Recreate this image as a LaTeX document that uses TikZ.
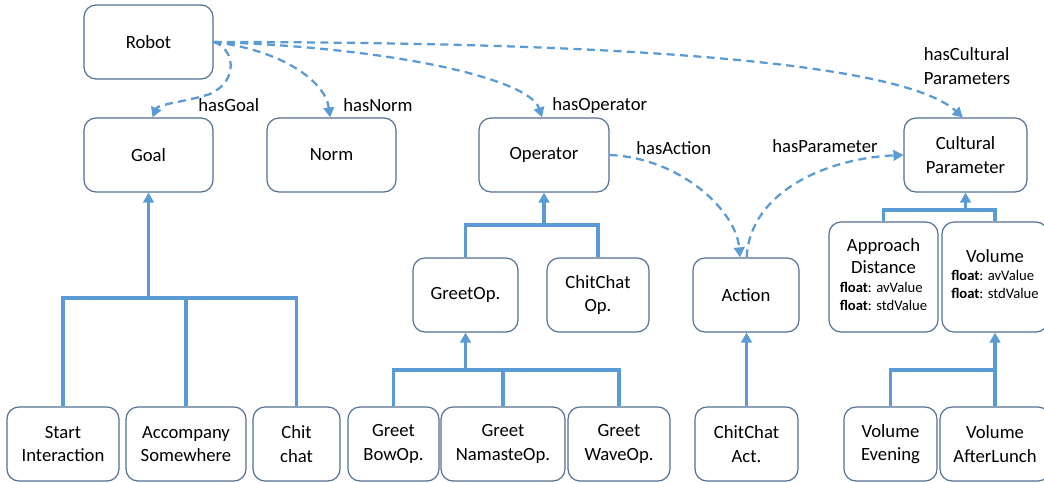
\documentclass[tikz,border=0pt]{standalone}
\usepackage{fontspec}
\setmainfont{Carlito}
\usetikzlibrary{arrows.meta}
\definecolor{edge}{RGB}{91,155,213}
\definecolor{frame}{RGB}{84,112,146}
\newcommand\mainsize{\fontsize{14}{17.5}\selectfont}
\newcommand\smallsize{\fontsize{11}{13.5}\selectfont}
% two attribute lines, left aligned with each other
\newcommand\attrs{{\smallsize\begin{tabular}[t]{@{}l@{}}\textbf{float}: avValue\\\textbf{float}: stdValue\end{tabular}}}
\tikzset{
  box/.style={draw=frame, line width=0.9pt, rounded corners=9pt, fill=white,
    align=center, inner sep=0pt, font=\mainsize},
  isa/.style={draw=edge, line width=2.4pt, -{Triangle[length=7.5pt,width=8pt]}},
  branch/.style={draw=edge, line width=2.4pt},
  rel/.style={draw=edge, line width=1.7pt, dash pattern=on 6pt off 4pt,
    -{Triangle[length=7.5pt,width=8pt]}},
  lbl/.style={font=\mainsize, inner sep=0pt},
}
% box by its corners: name, x1, y1, x2, y2, text
\newcommand\bx[6]{%
  \node[box, minimum width={(#4-#2)*0.75pt}, minimum height={(#5-#3)*0.75pt}]
    (#1) at ({(#2+#4)/2},{(#3+#5)/2}) {#6};}
\begin{document}
\begin{tikzpicture}[x=0.75pt, y=-0.75pt]
\useasboundingbox (0,0) rectangle (1044,482);
\clip (0,0) rectangle (1044,482);

% upper level
\bx{robot}{84}{5}{213}{79}{Robot}
\bx{goal}{84}{118}{213}{192}{Goal}
\bx{norm}{267}{118}{396}{192}{Norm}
\bx{oper}{479}{118}{609}{192}{Operator}
\bx{cult}{904}{118}{1027}{192}{Cultural\\Parameter}

% middle level
\bx{greet}{413}{258}{518}{332}{GreetOp.}
\bx{chitop}{547}{258}{649}{332}{ChitChat\\Op.}
\bx{action}{693}{258}{799}{332}{Action}
\bx{appr}{829}{222}{938}{332}{Approach\\[-1pt]Distance\\[-3pt]\attrs}
\bx{vol}{942}{222}{1048}{332}{Volume\\[-4pt]\attrs}

% lower level
\bx{start}{7}{407}{119}{481}{Start\\Interaction}
\bx{accomp}{126}{407}{246}{481}{Accompany\\Somewhere}
\bx{chit}{253}{407}{340}{481}{Chit\\chat}
\bx{bow}{348}{407}{439}{481}{Greet\\BowOp.}
\bx{namaste}{441}{407}{565}{481}{Greet\\NamasteOp.}
\bx{wave}{568}{407}{670}{481}{Greet\\WaveOp.}
\bx{chitact}{695}{407}{798}{481}{ChitChat\\Act.}
\bx{evening}{844}{407}{937}{481}{Volume\\Evening}
\bx{lunch}{940}{407}{1050}{481}{Volume\\AfterLunch}

% specialisation trees
\coordinate (gbar) at (148.5,298);
\draw[isa] (gbar) -- (goal.south);
\draw[branch] (start.north) -- (start.north |- gbar) -- (chit.north |- gbar) -- (chit.north);
\draw[branch] (accomp.north) -- (accomp.north |- gbar);

\coordinate (obar) at (544,225);
\draw[isa] (obar) -- (oper.south);
\draw[branch] (greet.north) -- (greet.north |- obar) -- (chitop.north |- obar) -- (chitop.north);

\coordinate (gobar) at (465.5,370);
\draw[isa] (gobar) -- (greet.south);
\draw[branch] (bow.north) -- (bow.north |- gobar) -- (wave.north |- gobar) -- (wave.north);
\draw[branch] (namaste.north) -- (namaste.north |- gobar);

\draw[isa] (chitact.north) -- (chitact.north |- action.south);

\coordinate (cbar) at (965.5,210);
\draw[isa] (cbar) -- (cult.south);
\draw[branch] (appr.north) -- (appr.north |- cbar) -- (vol.north |- cbar) -- (vol.north);

\coordinate (vbar) at (995,370);
\draw[isa] (lunch.north) -- (vol.south);
\draw[branch] (evening.north) -- (evening.north |- vbar) -- (vbar);

% relations
\draw[rel] (robot.east) .. controls (234,48) and (240,80) .. (210,94)
  .. controls (185,102) and (158,104) .. ([xshift=3pt]goal.north);
\draw[rel] (robot.east) .. controls (280,50) and (325,80) .. ([xshift=-1pt]norm.north);
\draw[rel] (robot.east) .. controls (400,48) and (530,80) .. ([xshift=-1.5pt]oper.north);
\draw[rel] (robot.east) .. controls (600,42) and (900,60) .. ([xshift=-2pt]cult.north);
\draw[rel] (oper.east) .. controls (680,158) and (736,210) .. ([xshift=-4.5pt]action.north);
\draw[rel] ([xshift=0.5pt]action.north) .. controls (750,190) and (830,158) .. (cult.west);

\node[lbl, anchor=base west] (lgoal) at (198,111) {hasGoal};
\node[lbl, anchor=base west] (lnorm) at (343,111) {hasNorm};
\node[lbl, anchor=base west] (loper) at (552,110) {hasOperator};
\node[lbl, anchor=base west] (lact) at (636,154) {hasAction};
\node[lbl, anchor=base west] (lpar) at (772,152) {hasParameter};
\node[lbl, align=left] (lcult) at (967,66) {hasCultural\\Parameters};
\end{tikzpicture}
\end{document}
